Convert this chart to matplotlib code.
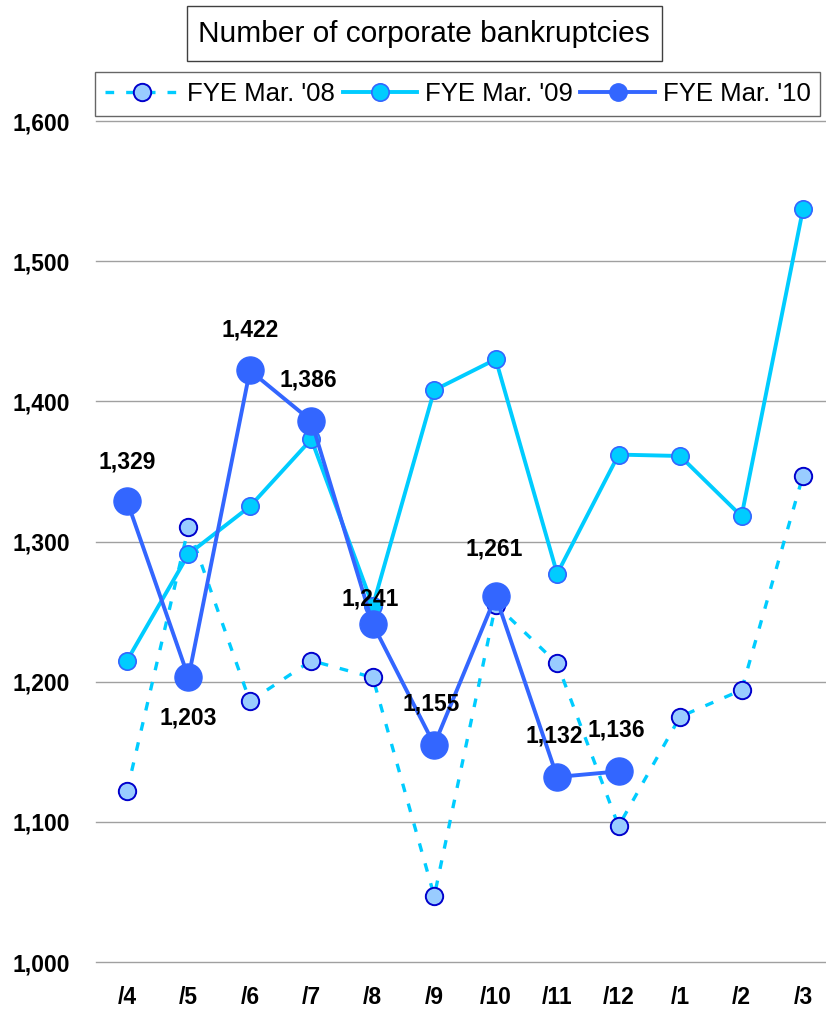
import matplotlib.pyplot as plt
from matplotlib.patches import Rectangle

plt.rcParams['font.family'] = ['Liberation Sans', 'DejaVu Sans']

months = ['/4', '/5', '/6', '/7', '/8', '/9', '/10', '/11', '/12', '/1', '/2', '/3']
fye08 = [1122, 1310, 1186, 1215, 1203, 1047, 1255, 1213, 1097, 1175, 1194, 1347]
fye09 = [1215, 1291, 1325, 1373, 1254, 1408, 1430, 1277, 1362, 1361, 1318, 1537]
fye10 = [1329, 1203, 1422, 1386, 1241, 1155, 1261, 1132, 1136]

# label offsets for the FYE Mar. '10 values (points, relative to the marker)
label_offsets = [(0, 28), (0, -29), (0, 29.5), (-2, 29.5), (-2, 18),
                 (-2, 29), (-1, 34), (-2, 29.5), (-2, 30)]

x = list(range(len(months)))

fig = plt.figure(figsize=(8.26, 10.14), dpi=100)
ax = fig.add_axes([96.3 / 826, 52 / 1014, (826 - 96.3) / 826, 841 / 1014])

ax.plot(x, fye08, color='#00CCFF', lw=2.4, ls=(0, (2.6, 3.6)),
        marker='o', ms=12.5, mfc='#99CCFF', mec='#0000CC', mew=1.4,
        label="FYE Mar. '08", zorder=3)
ax.plot(x, fye09, color='#00CCFF', lw=2.8,
        marker='o', ms=12.5, mfc='#00CCFF', mec='#3366FF', mew=1.2,
        label="FYE Mar. '09", zorder=4)
ax.plot(x[:len(fye10)], fye10, color='#3366FF', lw=2.8,
        marker='o', ms=19.5, mfc='#3366FF', mec='#3366FF',
        label="FYE Mar. '10", zorder=5)

for xi, v, off in zip(x, fye10, label_offsets):
    ax.annotate(f'{v:,}', (xi, v), xytext=off, textcoords='offset points',
                ha='center', va='center', fontsize=16.5, fontweight='bold',
                zorder=6)

ax.set_xlim(-0.5, (826 - 127) / 61.45)
ax.set_ylim(1000, 1600)
ax.set_yticks(range(1000, 1601, 100))
ax.yaxis.set_major_formatter(plt.FuncFormatter(lambda v, p: f'{int(v):,}'))
ax.set_xticks(x)
ax.set_xticklabels(months)
ax.tick_params(axis='both', length=0, labelsize=16.5)
ax.tick_params(axis='y', pad=19)
ax.tick_params(axis='x', pad=17)
for lbl in ax.get_xticklabels() + ax.get_yticklabels():
    lbl.set_fontweight('bold')

ax.grid(axis='y', color='#A0A0A0', lw=1.0)
for gl in ax.get_ygridlines():
    gl.set_clip_on(False)
ax.set_axisbelow(True)
for s in ax.spines.values():
    s.set_visible(False)

leg = ax.legend(loc='upper left', bbox_to_anchor=(95 / 826, 1 - 72 / 1014),
                bbox_transform=fig.transFigure, ncol=3, fontsize=18.5,
                handlelength=2.9, handletextpad=0.3, columnspacing=0.3,
                borderpad=0.38, borderaxespad=0, frameon=True, fancybox=False)
leg.get_frame().set_edgecolor('#404040')
leg.get_frame().set_linewidth(1.0)
leg.legend_handles[2].set_markersize(12.5)

# title box
fig.patches.append(Rectangle((187 / 826, 1 - 61 / 1014), 475 / 826, 55 / 1014,
                             transform=fig.transFigure, fill=False,
                             edgecolor='#404040', lw=1.0))
fig.text(424 / 826, 1 - 34 / 1014, 'Number of corporate bankruptcies',
         ha='center', va='center', fontsize=21.5)

fig.savefig('out.png', dpi=100)
